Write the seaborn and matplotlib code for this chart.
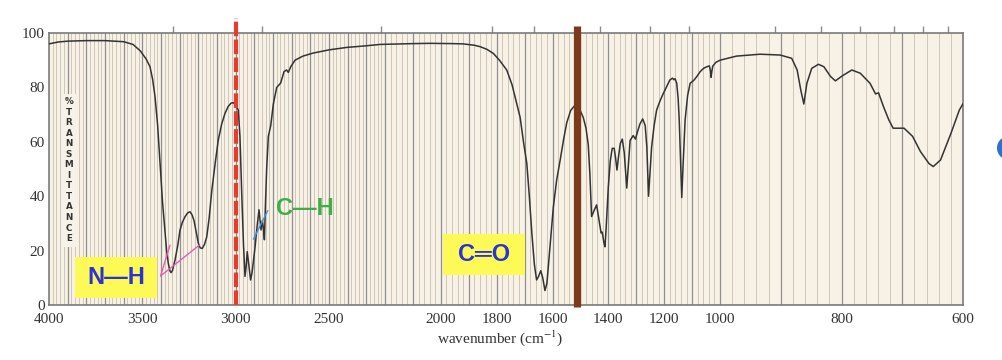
import numpy as np
import pandas as pd
import matplotlib
matplotlib.use('Agg')
import matplotlib.pyplot as plt
import seaborn as sns
from matplotlib.patches import Rectangle, Ellipse
from matplotlib.ticker import FixedLocator

# spectrum (wavenumber in cm-1, % transmittance)
wavenumber = [4000, 3950, 3900, 3800, 3700, 3600, 3550, 3512, 3480, 3459, 3445, 3432, 3418,
              3405, 3392, 3379, 3370, 3361, 3352, 3346, 3338, 3325, 3310, 3298, 3285, 3271,
              3258, 3245, 3234, 3223, 3212, 3200, 3190, 3179, 3167, 3155, 3142, 3128, 3110,
              3093, 3075, 3057, 3040, 3025, 3012, 3000, 2986, 2977, 2968, 2958, 2950, 2944,
              2938, 2930, 2920, 2912, 2896, 2885, 2875, 2869, 2864, 2857, 2851, 2846, 2840,
              2834, 2825, 2812, 2798, 2780, 2759, 2741, 2727, 2718, 2705, 2682, 2640, 2586,
              2500, 2405, 2300, 2227, 2100, 2039, 1960, 1920, 1880, 1860, 1835, 1812, 1790,
              1764, 1745, 1728, 1716, 1704, 1692, 1683, 1674, 1665, 1657, 1650, 1642, 1635,
              1627, 1620, 1615, 1606, 1597, 1585, 1573, 1560, 1549, 1535, 1519, 1505, 1490,
              1480, 1472, 1466, 1460, 1452, 1442, 1433, 1426, 1422, 1416, 1412, 1408, 1400,
              1393, 1386, 1379, 1374, 1369, 1363, 1357, 1350, 1343, 1338, 1334, 1328, 1322,
              1316, 1311, 1303, 1296, 1287, 1277, 1268, 1262, 1256, 1250, 1245, 1236, 1227,
              1215, 1203, 1190, 1180, 1170, 1165, 1161, 1155, 1150, 1146, 1141, 1137, 1132,
              1125, 1116, 1107, 1093, 1083, 1071, 1059, 1047, 1038, 1034, 1032, 1029, 1026,
              1015, 1000, 973, 934, 901, 882, 873, 867, 862, 857, 849, 838, 829, 818, 810,
              799, 783, 769, 753, 744, 739, 731, 722, 715, 697, 683, 670, 656, 649, 637, 620,
              606, 600]
transmittance = [96.0, 96.7, 97.0, 97.2, 97.2, 96.8, 95.8, 93.5, 90.5, 87.6, 83.0, 76.6, 66.0,
                 52.0, 38.0, 27.6, 20.0, 15.3, 12.5, 11.9, 12.8, 16.5, 22.0, 27.6, 30.5, 32.5,
                 33.8, 34.3, 33.2, 31.0, 27.0, 22.7, 21.0, 20.8, 22.3, 25.0, 32.0, 42.0, 52.0,
                 60.7, 66.5, 70.5, 73.0, 74.2, 74.4, 73.5, 71.7, 62.0, 42.0, 22.0, 10.5, 14.0,
                 19.6, 15.0, 9.2, 12.0, 21.4, 29.0, 35.0, 31.0, 27.6, 31.0, 28.0, 24.0, 38.0,
                 50.0, 62.0, 66.0, 74.0, 80.0, 81.6, 85.8, 86.4, 85.5, 87.6, 90.0, 91.5, 92.6,
                 93.8, 94.7, 95.3, 95.8, 96.1, 96.2, 96.1, 96.0, 95.5, 95.0, 94.0, 92.5, 90.0,
                 86.4, 81.0, 74.0, 69.0, 60.0, 52.0, 40.0, 26.4, 15.0, 9.2, 10.5, 12.6, 10.0,
                 5.3, 8.0, 14.0, 25.0, 36.0, 46.0, 53.0, 61.0, 67.0, 71.5, 73.5, 72.5, 69.0,
                 65.0, 59.0, 48.0, 32.5, 34.5, 36.8, 31.0, 26.5, 26.8, 23.0, 21.4, 28.0, 43.5,
                 53.0, 57.6, 57.6, 54.0, 49.6, 55.0, 59.4, 61.0, 56.0, 49.0, 43.0, 52.0, 60.5,
                 61.5, 62.3, 61.0, 63.5, 66.5, 68.4, 66.0, 58.0, 40.0, 50.0, 58.0, 66.0, 71.7,
                 75.0, 77.8, 80.5, 82.7, 83.4, 82.8, 83.2, 81.5, 76.0, 68.0, 52.0, 39.5, 52.0,
                 68.0, 77.0, 81.5, 82.7, 84.0, 85.8, 87.0, 87.6, 87.9, 86.0, 83.7, 86.0, 87.8,
                 89.2, 90.0, 91.5, 92.2, 91.9, 90.7, 86.4, 79.0, 73.9, 81.5, 87.0, 88.5, 87.6,
                 84.0, 82.4, 84.2, 86.4, 85.2, 81.5, 77.6, 78.0, 73.0, 68.0, 65.0, 65.0, 62.0,
                 56.4, 52.0, 50.9, 53.3, 63.0, 71.7, 74.0]

xtick_values = [4000, 3500, 3000, 2500, 2000, 1800, 1600, 1400, 1200, 1000, 800, 600]
ytick_values = [0, 20, 40, 60, 80, 100]
micron_marks = [3, 3.5, 4, 4.5, 5, 5.5, 6, 7, 8, 9, 10, 11, 12, 13, 14, 15, 16]

# piecewise linear wavenumber axis (scale changes at 2200 and 1000 cm-1)
anchor_wn = [-10000, 600, 1000, 2200, 4000, 20000]
anchor_pos = [-6439.5, 0, 243, 578, 914, 3900.7]


def fwd(w):
    return np.interp(w, anchor_wn, anchor_pos)


def inv(p):
    return np.interp(p, anchor_pos, anchor_wn)


df = pd.DataFrame({'wavenumber': wavenumber, 'transmittance': transmittance})

sns.set_theme(style='white')
plt.rcParams['font.family'] = ['Liberation Serif', 'DejaVu Serif']
plt.rcParams['mathtext.fontset'] = 'stix'

fig = plt.figure(figsize=(10.02, 3.6), dpi=100)
ax = fig.add_axes([49 / 1002, 55 / 360, 914 / 1002, 272 / 360])
ax.set_facecolor('#f8f1e5')

sns.lineplot(data=df, x='wavenumber', y='transmittance', sort=False, estimator=None,
             color='#333333', linewidth=1.1, ax=ax, zorder=4)

ax.set_xscale('function', functions=(fwd, inv))
ax.set_xlim(4000, 600)
ax.set_ylim(0, 100)

# chart paper grid
fine = np.arange(3980, 600, -20)
coarse = np.arange(3900, 600, -100)
ax.vlines(fine, 0, 1, transform=ax.get_xaxis_transform(), color='#cdc6b9', lw=0.7, zorder=1)
ax.vlines(coarse, 0, 1, transform=ax.get_xaxis_transform(), color='#8f8f8f', lw=0.9, zorder=1)

ax.xaxis.set_major_locator(FixedLocator(xtick_values))
ax.set_xticklabels([str(v) for v in xtick_values])
ax.xaxis.set_minor_locator(FixedLocator([10000 / m for m in micron_marks]))
ax.set_yticks(ytick_values)
ax.set_yticklabels([str(v) for v in ytick_values])
ax.tick_params(which='major', length=0, labelsize=11, labelcolor='#333333')
ax.tick_params(axis='x', which='major', pad=6)
ax.tick_params(axis='y', which='major', pad=3)
ax.tick_params(axis='x', which='minor', top=True, bottom=False, direction='out',
               length=5, width=1, color='#8a8a8a')

ax.set_xlabel('wavenumber (cm$^{-1}$)', fontsize=11, color='#333333')
ax.xaxis.set_label_coords((500 - 49) / 914, -0.085)
ax.set_ylabel('')

for s in ax.spines.values():
    s.set_color('#7a7a7a')
    s.set_linewidth(1.2)

# vertical axis title printed inside the chart
ax.text(0.0219, 0.496, '\n'.join('%TRANSMITTANCE'), transform=ax.transAxes,
        ha='center', va='center', fontsize=6.3, fontweight='bold', family='DejaVu Sans',
        color='#333333', linespacing=1.22, zorder=5,
        bbox=dict(facecolor='#f6f1e9', edgecolor='none', pad=2.5))

# marker lines
ax.axvline(3000, ymin=0, ymax=1.055, color='#e83a2e', lw=3, dashes=(3.5, 0.8),
           dash_capstyle='butt', clip_on=False, zorder=6)
ax.axvline(1512, ymin=-0.007, ymax=1.026, color='#7b3a1c', lw=5.2,
           solid_capstyle='butt', clip_on=False, zorder=6)

# N-H label
ax.add_patch(Rectangle((0.0284, 0.0257), 0.0898, 0.1508, transform=ax.transAxes,
                       facecolor='#fdfa58', edgecolor='none', zorder=6))
ax.text(0.0733, 0.0993, 'N—H', transform=ax.transAxes, ha='center', va='center',
        fontsize=17, fontweight='bold', family='Liberation Sans', color='#2b33d6', zorder=7)
ax.plot([3402, 3352], [10.7, 22], color='#e060b4', lw=1, zorder=6)
ax.plot([3402, 3195], [10.7, 22], color='#e060b4', lw=1, zorder=6)

# C-H label
ax.plot([2905, 2828], [24.2, 34.7], color='#4a90d9', lw=1, zorder=6)
ax.text(0.280, 0.355, 'C—H', transform=ax.transAxes, ha='center', va='center',
        fontsize=17, fontweight='bold', family='Liberation Sans', color='#41ad4a', zorder=7)

# C=O label
ax.add_patch(Rectangle((0.431, 0.110), 0.090, 0.151, transform=ax.transAxes,
                       facecolor='#fdfa58', edgecolor='none', zorder=6))
ax.text(0.476, 0.186, 'C═O', transform=ax.transAxes, ha='center', va='center',
        fontsize=17, fontweight='bold', family=['Liberation Sans', 'DejaVu Sans'],
        color='#2b33d6', zorder=7)

# partial blue dot at the right edge
fig.patches.append(Ellipse((1009 / 1002, 1 - 148 / 360), 24 / 1002, 24 / 360,
                           transform=fig.transFigure, facecolor='#2f6fd0', edgecolor='none'))

fig.savefig('out.png', dpi=100)
